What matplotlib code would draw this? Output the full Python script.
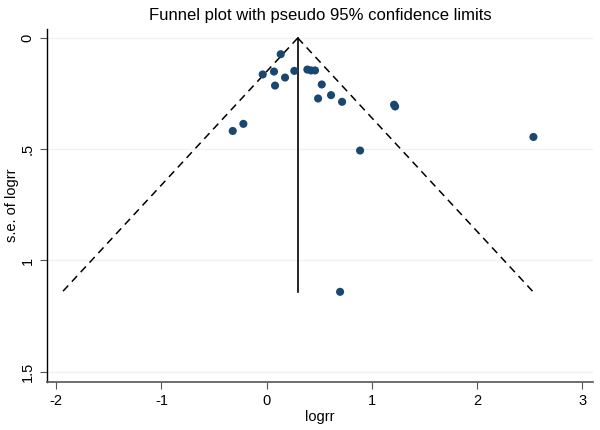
import numpy as np
import matplotlib.pyplot as plt
from matplotlib.ticker import FixedLocator

plt.rcParams['font.family'] = ['Liberation Sans', 'DejaVu Sans']

# study estimates
logrr = [0.133, -0.038, 0.069, 0.079, 0.174, 0.262, 0.386, 0.421, 0.459,
         0.523, 0.488, 0.611, 0.716, 1.210, 1.220, -0.323, -0.222, 0.887,
         2.534, 0.697]
se_logrr = [0.073, 0.164, 0.151, 0.214, 0.178, 0.148, 0.142, 0.146, 0.146,
            0.209, 0.272, 0.257, 0.287, 0.300, 0.308, 0.418, 0.386, 0.506,
            0.445, 1.141]

pooled = 0.295      # fixed-effect estimate (vertical line)
z95 = 1.96
se_max = 1.143

x_ticks = [-2, -1, 0, 1, 2, 3]
y_ticks = [0, 0.5, 1, 1.5]
y_ticklabels = ['0', '.5', '1', '1.5']

navy = '#1a476f'
grid_c = '#eef3f3'

fig = plt.figure(figsize=(6, 4.3), dpi=100)
ax = fig.add_axes([0.0783, 0.1123, 0.9100, 0.8196])

# gridlines
for yv in y_ticks:
    ax.axhline(yv, color=grid_c, lw=1.0, zorder=0)

# funnel limits
se_line = np.array([0, se_max])
ax.plot(pooled - z95 * se_line, se_line, color='black', lw=1.1,
        dashes=(5, 3.5), zorder=2)
ax.plot(pooled + z95 * se_line, se_line, color='black', lw=1.1,
        dashes=(5, 3.5), zorder=2)
ax.plot([pooled, pooled], [0, se_max], color='black', lw=1.2, zorder=2)

ax.scatter(logrr, se_logrr, s=34, color=navy, edgecolors='none', zorder=3)

ax.set_xlim(-2.088, 3.10)
ax.set_ylim(1.545, -0.039)

ax.xaxis.set_major_locator(FixedLocator(x_ticks))
ax.set_xticklabels([str(v) for v in x_ticks])
ax.yaxis.set_major_locator(FixedLocator(y_ticks))
ax.set_yticklabels(y_ticklabels, rotation=90, va='center')

for s in ['top', 'right']:
    ax.spines[s].set_visible(False)
ax.spines['left'].set_color('black')
ax.spines['bottom'].set_color('#555555')
ax.spines['left'].set_linewidth(1.0)
ax.spines['bottom'].set_linewidth(1.2)
ax.tick_params(axis='both', direction='out', length=5, width=0.8,
               colors='#555555', labelcolor='black', labelsize=10.5, pad=4)

ax.set_xlabel('logrr', fontsize=10.5, labelpad=1)
ax.set_ylabel('s.e. of logrr', fontsize=10.5, labelpad=1)
ax.set_title('Funnel plot with pseudo 95% confidence limits',
             fontsize=12, pad=6.5)

fig.savefig('out.png', dpi=100)
